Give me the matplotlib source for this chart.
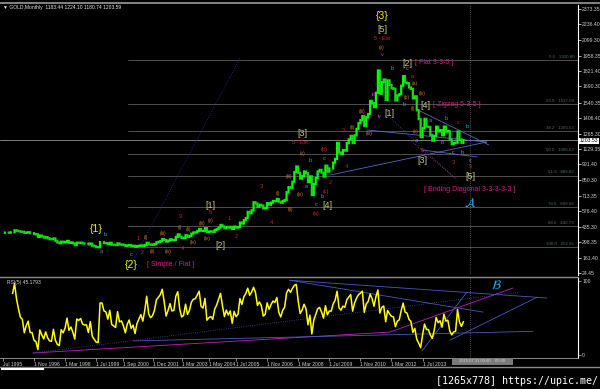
import numpy as np
import matplotlib.pyplot as plt
from matplotlib.lines import Line2D
from matplotlib.patches import Rectangle

W, H = 600, 389

# monthly closes, Jul 1995 .. Apr 2015
closes = [
    383, 384, 384, 383, 387, 387,
    405, 400, 396, 392, 391, 382, 385, 387, 379, 379, 371, 369,
    345, 358, 349, 340, 345, 334, 326, 325, 332, 311, 296, 290,
    303, 297, 301, 310, 293, 296, 288, 273, 294, 292, 294, 288,
    287, 287, 280, 286, 268, 262, 255, 254, 299, 299, 291, 290,
    283, 293, 277, 275, 273, 288, 277, 278, 273, 264, 270, 273,
    265, 267, 258, 264, 267, 270, 266, 273, 293, 279, 275, 277,
    282, 297, 302, 308, 327, 318, 304, 312, 324, 317, 318, 347,
    368, 347, 334, 337, 361, 346, 354, 375, 385, 386, 398, 416,
    400, 398, 423, 388, 393, 395, 391, 407, 415, 429, 452, 438,
    422, 435, 428, 435, 417, 437, 429, 433, 473, 465, 495, 513,
    568, 556, 582, 654, 643, 613, 632, 624, 599, 604, 646, 632,
    650, 665, 663, 683, 659, 650, 665, 673, 743, 789, 783, 836,
    923, 972, 917, 864, 886, 928, 912, 833, 884, 718, 816, 869,
    928, 942, 917, 883, 979, 927, 955, 955, 1007, 1040, 1182, 1096,
    1082, 1118, 1113, 1180, 1213, 1244, 1181, 1248, 1307, 1357, 1384, 1421,
    1332, 1410, 1439, 1556, 1536, 1500, 1628, 1826, 1620, 1722, 1746, 1565,
    1738, 1697, 1669, 1664, 1560, 1604, 1615, 1691, 1776, 1719, 1713, 1675,
    1663, 1578, 1596, 1472, 1393, 1234, 1313, 1396, 1327, 1324, 1253, 1202,
    1244, 1326, 1284, 1296, 1250, 1327, 1282, 1287, 1210, 1171, 1182, 1184,
    1283, 1213, 1183, 1204,
]
opens = [closes[0]] + closes[:-1]
bars = np.arange(len(closes))

price_ticks = [2373.35, 2236.40, 2099.30, 1958.35, 1821.40, 1690.30, 1540.35,
               1406.40, 1265.30, 1129.35, 991.40, 850.30, 713.35, 576.40,
               435.30, 298.35, 161.40, 24.45]
last_price = 1203.59

fib_pct = [0.0, 23.6, 38.2, 50.0, 61.8, 78.6, 88.6, 100.0]
fib_high, fib_low = 1920.80, 252.55

time_labels = ["Jul 1995", "1 Nov 1996", "1 Mar 1998", "1 Jul 1999", "1 Sep 2000",
               "1 Dec 2001", "1 Mar 2003", "1 May 2004", "1 Jul 2005", "1 Nov 2006",
               "1 Mar 2008", "1 Jul 2009", "1 Nov 2010", "1 Mar 2012", "1 Jul 2013"]
time_bars = [0, 16, 32, 48, 62, 77, 92, 106, 120, 136, 152, 168, 184, 200, 216]

# analyst trendlines (bar, price) -> (bar, price)
price_lines = [
    (64.4, 51, 122, 1937),
    (168.3, 896, 249, 1190),
    (187.4, 1297, 249, 1190),
    (213, 1480, 250, 1165),
    (215.7, 1119, 244, 1057),
    (197.7, 1430, 233.7, 852),
    (209.5, 1208, 232.7, 870),
]
price_line_styles = [("#2a3290", ":"), ("#5866c8", "-"), ("#5866c8", "-"),
                     ("#5866c8", "-"), ("#5866c8", "-"), ("#3a48b0", ":"),
                     ("#c03030", ":")]

# trendlines in the RSI window (bar, rsi) -> (bar, rsi)
rsi_lines = [
    (15.5, 2.7, 199.2, 31),
    (199.2, 31, 262.5, 90.5),
    (15.5, 2.7, 266.1, 85),
    (67, 19, 272.8, 32),
    (147.7, 101, 247.1, 58),
    (147.7, 101, 280, 77),
    (215.7, 5.4, 238.8, 85),
    (230.1, 20, 274.9, 78),
]
rsi_line_styles = [("#c020c0", "-"), ("#c020c0", "-"), ("#3a48b0", ":"),
                   ("#4a58c0", "-"), ("#4a58c0", "-"), ("#4a58c0", "-"),
                   ("#4a58c0", "-"), ("#4a58c0", "-")]
cursor_bar = 240.4


def rsi(values, n=5):
    v = np.asarray(values, float)
    d = np.diff(v)
    up = np.where(d > 0, d, 0.0)
    dn = np.where(d < 0, -d, 0.0)
    out = np.full(len(v), np.nan)
    au, ad = up[:n].mean(), dn[:n].mean()
    out[n] = 100 * au / (au + ad)
    for i in range(n, len(d)):
        au = (au * (n - 1) + up[i]) / n
        ad = (ad * (n - 1) + dn[i]) / n
        out[i + 1] = 100 * au / (au + ad)
    return out


def rect(x0, y0, x1, y1):
    return [x0 / W, 1 - y1 / H, (x1 - x0) / W, (y1 - y0) / H]


def ftext(px, py, s, color, size, ha="center", **kw):
    fig.text(px / W, 1 - py / H, s, color=color, fontsize=size, ha=ha,
             va="center", family="Liberation Sans", **kw)


fig = plt.figure(figsize=(6, 3.89), dpi=100, facecolor="black")

# ---- price window
ax = fig.add_axes(rect(0, 5, 578, 275), facecolor="black")
ax.set_xlim(-1.5, 296)
ax.set_ylim(6.8, 2409)
for s in ["top", "left", "bottom"]:
    ax.spines[s].set_visible(False)
ax.spines["right"].set_color("white")
ax.spines["right"].set_linewidth(0.8)
ax.set_xticks([])
ax.yaxis.tick_right()
ax.set_yticks(price_ticks)
ax.set_yticklabels([f"{v:.2f}" for v in price_ticks])
ax.tick_params(axis="y", colors="white", labelcolor="#d0d0d0", labelsize=3.7,
               length=2, width=0.5, pad=1)
for lab in ax.get_yticklabels():
    lab.set_family("Liberation Sans")

# fibo retracement
fib_start = 64.4
for p in fib_pct:
    lvl = fib_high - p / 100 * (fib_high - fib_low)
    ax.plot([fib_start, 296], [lvl, lvl], color="#6e6e6e", lw=0.5, zorder=1)
    ax.text(294, lvl + 12, f"{p:.1f}   {lvl:.2f}", color="#4f6b6b",
            fontsize=3.2, ha="right", va="bottom", family="Liberation Sans")

ax.axhline(last_price, color="#b0b0b0", lw=0.5, zorder=1)
ax.axvline(cursor_bar, color="#9a9a9a", lw=0.5, ls=(0, (1, 2)), zorder=1)

for (x0, y0, x1, y1), (c, ls) in zip(price_lines, price_line_styles):
    ax.plot([x0, x1], [y0, y1], color=c, lw=0.6, ls=ls, zorder=2)

o = np.array(opens, float)
c = np.array(closes, float)
up = c >= o
ax.vlines(bars[up], o[up], c[up], color="#00ff00", lw=1.6,
          capstyle="projecting", snap=False, zorder=3)
ax.vlines(bars[~up], c[~up], o[~up], color="#1ad81a", lw=1.6,
          capstyle="projecting", snap=False, zorder=3)

# current price box on the scale
ftext(588.5, 141, f"{1203.53:.2f}", "black", 3.7,
      bbox=dict(boxstyle="square,pad=0.15", fc="white", ec="none"))

# ---- RSI window
ax2 = fig.add_axes(rect(0, 277, 578, 358), facecolor="black")
ax2.set_xlim(-1.5, 296)
ax2.set_ylim(-4.05, 105.4)
for s in ["top", "left"]:
    ax2.spines[s].set_visible(False)
ax2.spines["right"].set_color("white")
ax2.spines["right"].set_linewidth(0.8)
ax2.spines["bottom"].set_color("#a0a0a0")
ax2.spines["bottom"].set_linewidth(0.6)
ax2.yaxis.tick_right()
ax2.set_yticks([0, 100])
ax2.set_yticklabels(["0", "100"])
ax2.set_xticks(time_bars)
ax2.set_xticklabels(time_labels, ha="left")
ax2.tick_params(axis="both", colors="#c0c0c0", labelcolor="#d0d0d0",
                labelsize=3.6, length=2, width=0.5, pad=1)
for lab in ax2.get_xticklabels() + ax2.get_yticklabels():
    lab.set_family("Liberation Sans")

for (x0, y0, x1, y1), (cc, ls) in zip(rsi_lines, rsi_line_styles):
    ax2.plot([x0, x1], [y0, y1], color=cc, lw=0.6, ls=ls, zorder=2)
ax2.axvline(cursor_bar, color="#9a9a9a", lw=0.5, ls=(0, (1, 2)), zorder=1)
ax2.plot(bars, rsi(closes), color="#ffff00", lw=1.1, zorder=3)
ax2.text(2, 101, "RSI(5) 45.1793", color="#d0d0d0", fontsize=3.6,
         ha="left", va="top", family="Liberation Sans")
ax2.text(254, 94, r"$\mathcal{B}$", color="#22aaee", fontsize=9,
         ha="center", va="center", fontweight="bold")

# ---- frame pieces
fig.add_artist(Line2D([0, 1], [1 - 2.5 / H] * 2, color="#9a9a9a", lw=1.2))
fig.add_artist(Line2D([0, 578 / W], [1 - 276.5 / H] * 2, color="#8a8a8a", lw=1.0))
fig.add_artist(Line2D([0, 1], [1 - 366.5 / H] * 2, color="#8a8a8a", lw=1.0))
fig.add_artist(Line2D([2 / W, 43 / W], [1 - 368.5 / H] * 2, color="white", lw=1.5))
fig.add_artist(Rectangle((452 / W, 1 - 365 / H), 61 / W, 7 / H,
                         transform=fig.transFigure, fc="#7a7a7a", ec="none"))
ftext(482, 361.5, "2015.07.31 00:00    00:00", "#d8d8d8", 3.0)

ftext(3, 7, "\u25bc GOLD,Monthly  1183.44 1224.10 1180.74 1203.59",
      "#e0e0e0", 3.6, ha="left")
fig.text(598 / W, 1 - 381 / H, "[1265x778] https://upic.me/", color="white",
         fontsize=7.2, ha="right", va="center", family="DejaVu Sans Mono")

# ---- Elliott wave labels
YEL, KHA, RED, ORA, CYA, PUR, MAG = ("#f0f000", "#c8c878", "#d02828",
                                     "#c87828", "#3aa0d8", "#b040c0", "#d82088")
for s, px, py in [("{1}", 96, 229), ("{2}", 131, 265), ("{3}", 382, 16)]:
    ftext(px, py, s, YEL, 7.5)
for s, px, py in [("[1]", 210, 205), ("[2]", 220, 245), ("[3]", 302, 133),
                  ("[4]", 327, 205), ("[5]", 382, 29), ("[1]", 389, 113),
                  ("[2]", 407, 63), ("[3]", 422, 160), ("[4]", 425, 105),
                  ("[5]", 470, 177)]:
    ftext(px, py, s, KHA, 6.5)
for s, px, py in [("[ Simple / Flat ]", 171, 265), ("[ Flat 3-3-5 ]", 434, 63),
                  ("[ Zigzag 5-3-5 ]", 457, 104),
                  ("[ Ending Diagonal 3-3-3-3-3 ]", 470, 190)]:
    ftext(px, py, s, MAG, 5)
for s, px, py in [("5 - Ext", 382, 39), ("5 - Ext", 300, 143), ("1", 138, 238),
                  ("2", 142, 253), ("3", 180, 217), ("4", 182, 248),
                  ("5", 210, 213), ("1", 229, 218), ("2", 236, 236),
                  ("3", 261, 186), ("4", 271, 223), ("3", 343, 131),
                  ("4", 346, 166), ("2", 330, 183), ("a", 412, 76),
                  ("c", 458, 123), ("5", 422, 150), ("3", 453, 162),
                  ("5", 470, 167), ("(a)", 316, 213), ("(b)", 324, 150),
                  ("(c)", 326, 191)]:
    ftext(px, py, s, RED, 4)
for s, px, py in [("(i)", 146, 237), ("(ii)", 152, 252), ("(iii)", 163, 234),
                  ("(iv)", 168, 251), ("(i)", 180, 228), ("(ii)", 188, 230),
                  ("(iii)", 202, 224), ("(iv)", 193, 243), ("(v)", 211, 221),
                  ("(iv)", 207, 238), ("(i)", 278, 193), ("(ii)", 291, 209),
                  ("(iii)", 289, 177), ("(v)", 303, 154), ("(iv)", 300, 195),
                  ("(iii)", 362, 112), ("(ii)", 352, 128), ("(iv)", 369, 133),
                  ("(v)", 382, 48), ("(b)", 407, 97), ("(a)", 415, 83),
                  ("(iv)", 422, 93), ("(i)", 413, 108), ("(v)", 416, 132)]:
    ftext(px, py, s, ORA, 3.6)
for s, px, py in [("a", 101, 252), ("b", 105, 235), ("c", 131, 255),
                  ("b", 310, 161), ("a", 306, 187), ("a", 317, 173),
                  ("c", 316, 204), ("c", 324, 158), ("b", 322, 197),
                  ("b", 392, 69), ("c", 407, 69), ("b", 404, 104),
                  ("a", 430, 120), ("b", 446, 119), ("b", 467, 127),
                  ("a", 416, 140), ("b", 442, 143), ("a", 456, 139),
                  ("c", 453, 153), ("b", 462, 153), ("c", 470, 160)]:
    ftext(px, py, s, CYA, 4)
for s, px, py in [("v", 382, 54), ("iii", 374, 94), ("iv", 380, 117)]:
    ftext(px, py, s, PUR, 4)
fig.text(470 / W, 1 - 203 / H, r"$\mathcal{A}$", color="#22aaee", fontsize=9,
         ha="center", va="center")

fig.savefig("out.png", dpi=100, facecolor="black")
